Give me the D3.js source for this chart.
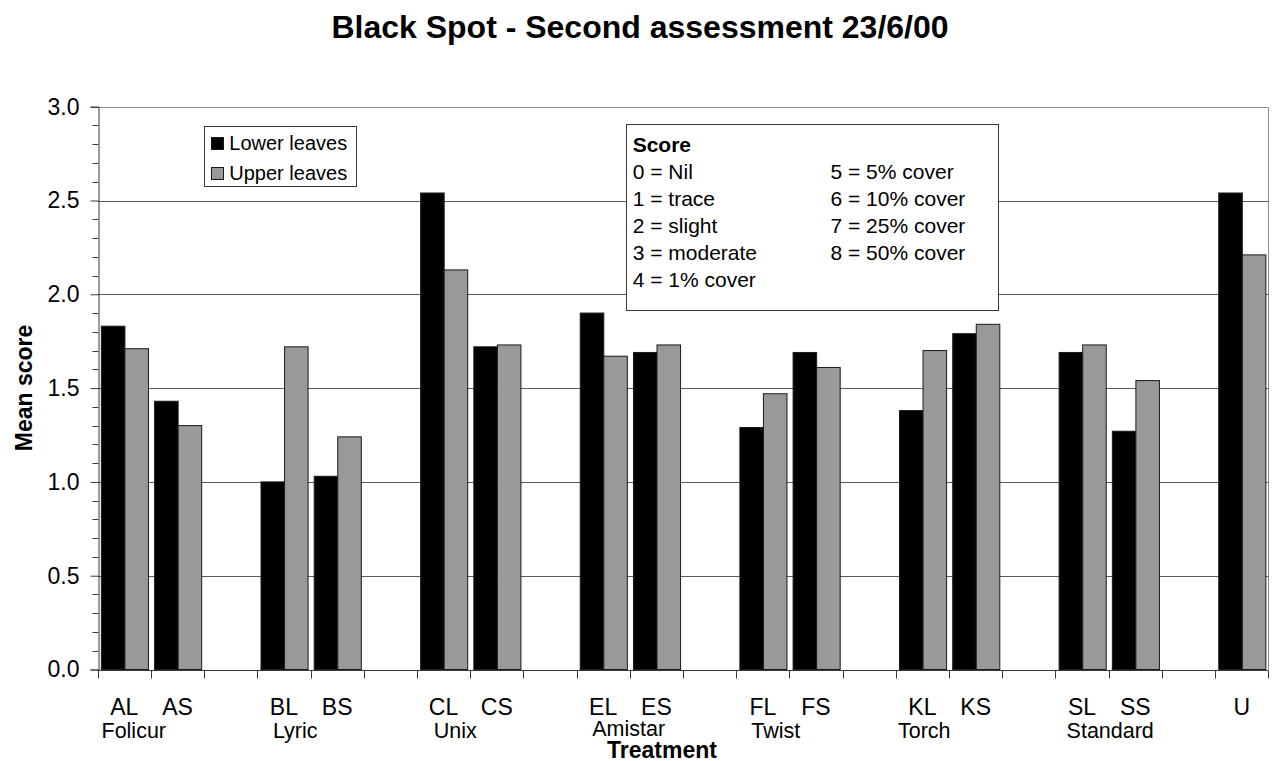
<!DOCTYPE html>
<html>
<head>
<meta charset="utf-8">
<script src="https://cdn.jsdelivr.net/npm/d3@7"></script>
<style>
  html, body { margin: 0; padding: 0; background: #fff; }
  svg { display: block; font-family: "Liberation Sans", Arial, sans-serif; }
</style>
</head>
<body>
<svg id="chart" width="1274" height="761"></svg>
<script>
// Treatment groups (each group has an "L" and "S" code) plus the untreated control.
const groupNames = ["Folicur", "Lyric", "Unix", "Amistar", "Twist", "Torch", "Standard"];
const groupCodes = [["AL", "AS"], ["BL", "BS"], ["CL", "CS"], ["EL", "ES"], ["FL", "FS"], ["KL", "KS"], ["SL", "SS"]];
const controlCode = "U";

// Mean black spot score per treatment code.
const treatments  = ["AL", "AS", "BL", "BS", "CL", "CS", "EL", "ES", "FL", "FS", "KL", "KS", "SL", "SS", "U"];
const lowerLeaves = [1.83, 1.43, 1.00, 1.03, 2.54, 1.72, 1.90, 1.69, 1.29, 1.69, 1.38, 1.79, 1.69, 1.27, 2.54];
const upperLeaves = [1.71, 1.30, 1.72, 1.24, 2.13, 1.73, 1.67, 1.73, 1.47, 1.61, 1.70, 1.84, 1.73, 1.54, 2.21];

const seriesNames = ["Lower leaves", "Upper leaves"];
const yTicks = [0, 0.5, 1.0, 1.5, 2.0, 2.5, 3.0];

const scoreTitle = "Score";
const scoreLeft  = ["0 = Nil", "1 = trace", "2 = slight", "3 = moderate", "4 = 1% cover"];
const scoreRight = ["5 = 5% cover", "6 = 10% cover", "7 = 25% cover", "8 = 50% cover"];

const chartTitle = "Black Spot - Second assessment 23/6/00";
const xTitle = "Treatment";
const yTitle = "Mean score";

// ---- layout ----
const plot = { left: 97.7, right: 1268.3, top: 106.7, bottom: 669.5 };
const fillColors = ["#000000", "#999999"];
const fontTick = 23, fontGroup = 21.5, fontLegend = 20, fontScore = 21;
// horizontal / vertical shift of each group name relative to the start of its first slot
const groupLabelDx = [3.8, 15.6, 16.8, 15.6, 15.1, 2.1, 11.1];
const groupLabelDy = [0, 0, 0, -2, 0, 0, 0];

const svg = d3.select("#chart");

// slots: two codes per group, an empty slot after each group, then the control
const slots = [];
groupCodes.forEach(codes => { codes.forEach(c => slots.push(c)); slots.push(null); });
slots.push(controlCode);

const x = d3.scaleBand()
  .domain(d3.range(slots.length))
  .range([plot.left, plot.right])
  .padding(0);

const inner = d3.scaleBand()
  .domain([0, 1])
  .range([0, x.bandwidth()])
  .paddingInner(0)
  .paddingOuter(0.13)
  .align(0.6);

const y = d3.scaleLinear().domain([0, 3]).range([plot.bottom, plot.top]);

// horizontal gridlines
svg.append("g")
  .selectAll("line")
  .data(yTicks.filter(t => t > 0))
  .join("line")
  .attr("x1", plot.left).attr("x2", plot.right)
  .attr("y1", d => Math.round(y(d)) + 0.5).attr("y2", d => Math.round(y(d)) + 0.5)
  .attr("stroke", d => d === 3 ? "#8c8c8c" : "#5a5a5a")
  .attr("stroke-width", 1);

// right border of the plot area
svg.append("line")
  .attr("x1", Math.round(plot.right) + 0.5).attr("x2", Math.round(plot.right) + 0.5)
  .attr("y1", Math.round(y(3)) + 0.5).attr("y2", plot.bottom)
  .attr("stroke", "#8c8c8c");

// bars
const rows = treatments.map((code, i) => ({ code, values: [lowerLeaves[i], upperLeaves[i]] }));
const slotIndex = code => slots.indexOf(code);

const barG = svg.append("g");
rows.forEach(r => {
  barG.selectAll(null)
    .data(r.values.map((v, s) => ({ v, s })))
    .join("rect")
    .attr("x", d => x(slotIndex(r.code)) + inner(d.s))
    .attr("y", d => y(d.v))
    .attr("width", inner.bandwidth())
    .attr("height", d => y(0) - y(d.v))
    .attr("fill", d => fillColors[d.s])
    .attr("stroke", "#1a1a1a")
    .attr("stroke-width", 1);
});

// y axis with labelled major ticks and minor ticks every 0.1
const yAxis = d3.axisLeft(y)
  .tickValues(yTicks)
  .tickFormat(d3.format(".1f"))
  .tickSize(8)
  .tickPadding(11);
const yAxisG = svg.append("g")
  .attr("transform", `translate(${Math.round(plot.left) + 0.5},0)`)
  .call(yAxis);
yAxisG.select(".domain").attr("stroke", "#3a3a3a");
yAxisG.selectAll(".tick line").attr("stroke", "#3a3a3a");
yAxisG.selectAll(".tick text")
  .attr("font-size", fontTick)
  .attr("font-family", "Liberation Sans, Arial, sans-serif")
  .attr("fill", "#000");

const minor = d3.range(0, 31).map(i => i / 10).filter(v => Math.round(v * 10) % 5 !== 0);
svg.append("g")
  .attr("transform", `translate(${Math.round(plot.left) + 0.5},0)`)
  .selectAll("line")
  .data(minor)
  .join("line")
  .attr("x1", -6).attr("x2", 0)
  .attr("y1", d => Math.round(y(d)) + 0.5).attr("y2", d => Math.round(y(d)) + 0.5)
  .attr("stroke", "#3a3a3a");

// x axis: ticks at every slot boundary, labels centred in each slot
const xAxisG = svg.append("g")
  .attr("transform", `translate(0,${Math.round(plot.bottom) + 0.5})`);
xAxisG.append("line")
  .attr("x1", plot.left).attr("x2", plot.right)
  .attr("stroke", "#3a3a3a");
xAxisG.selectAll("line.tk")
  .data(d3.range(slots.length + 1))
  .join("line")
  .attr("class", "tk")
  .attr("x1", i => Math.round(plot.left + i * x.step()) + 0.5)
  .attr("x2", i => Math.round(plot.left + i * x.step()) + 0.5)
  .attr("y1", 0).attr("y2", 8)
  .attr("stroke", "#3a3a3a");
xAxisG.selectAll("text.code")
  .data(slots.map((c, i) => ({ c, i })).filter(d => d.c))
  .join("text")
  .attr("class", "code")
  .attr("x", d => x(d.i) + x.bandwidth() / 2)
  .attr("y", 44)
  .attr("text-anchor", "middle")
  .attr("font-size", fontTick)
  .text(d => d.c);

// group names under each pair of codes
svg.append("g")
  .selectAll("text")
  .data(groupNames)
  .join("text")
  .attr("x", (d, i) => x(slotIndex(groupCodes[i][0])) + groupLabelDx[i])
  .attr("y", (d, i) => 738.3 + groupLabelDy[i])
  .attr("font-size", fontGroup)
  .text(d => d);

// axis titles
svg.append("text")
  .attr("x", 662).attr("y", 757.5)
  .attr("text-anchor", "middle")
  .attr("font-size", 23).attr("font-weight", "bold")
  .text(xTitle);

svg.append("text")
  .attr("transform", "translate(31.5,388) rotate(-90)")
  .attr("text-anchor", "middle")
  .attr("font-size", 23).attr("font-weight", "bold")
  .text(yTitle);

// chart title
svg.append("text")
  .attr("x", 640).attr("y", 38)
  .attr("text-anchor", "middle")
  .attr("font-size", 32).attr("font-weight", "bold")
  .text(chartTitle);

// series legend
const legend = svg.append("g");
legend.append("rect")
  .attr("x", 204.5).attr("y", 126.5).attr("width", 152).attr("height", 60)
  .attr("fill", "#fff").attr("stroke", "#3a3a3a");
seriesNames.forEach((name, i) => {
  legend.append("rect")
    .attr("x", 211.5).attr("y", 137.5 + i * 30).attr("width", 12).attr("height", 12)
    .attr("fill", fillColors[i]).attr("stroke", "#1a1a1a");
  legend.append("text")
    .attr("x", 229.3).attr("y", 150 + i * 30)
    .attr("font-size", fontLegend)
    .text(name);
});

// score key box
const key = svg.append("g");
key.append("rect")
  .attr("x", 626.5).attr("y", 124.5).attr("width", 372).attr("height", 186)
  .attr("fill", "#fff").attr("stroke", "#3a3a3a");
key.append("text")
  .attr("x", 632.7).attr("y", 151.7)
  .attr("font-size", fontScore).attr("font-weight", "bold")
  .text(scoreTitle);
key.selectAll("text.l")
  .data(scoreLeft)
  .join("text")
  .attr("class", "l")
  .attr("x", 632.7).attr("y", (d, i) => 178.5 + i * 27)
  .attr("font-size", fontScore)
  .text(d => d);
key.selectAll("text.r")
  .data(scoreRight)
  .join("text")
  .attr("class", "r")
  .attr("x", 830.5).attr("y", (d, i) => 178.5 + i * 27)
  .attr("font-size", fontScore)
  .text(d => d);
</script>
</body>
</html>
